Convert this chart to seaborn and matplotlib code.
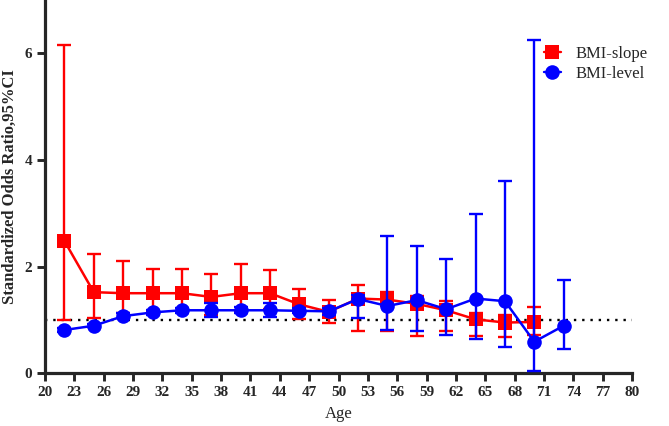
import matplotlib.pyplot as plt
import matplotlib.lines as mlines
import pandas as pd
import seaborn as sns

# dati
ages_slope = [22, 25, 28, 31, 34, 37, 40, 43, 46, 49, 52, 55, 58, 61, 64, 67, 70]
slope_or = [2.48, 1.52, 1.50, 1.50, 1.50, 1.43, 1.50, 1.50, 1.29, 1.15, 1.40, 1.38, 1.30, 1.18, 1.01, 0.95, 0.96]
slope_lo = [1.00, 1.03, 1.12, 1.15, 1.15, 1.10, 1.15, 1.20, 1.02, 0.94, 0.79, 0.80, 0.69, 0.79, 0.69, 0.67, 0.72]
slope_hi = [6.16, 2.24, 2.11, 1.96, 1.95, 1.86, 2.04, 1.94, 1.58, 1.38, 1.65, 1.52, 1.45, 1.35, 1.12, 1.10, 1.24]

ages_level = [22, 25, 28, 31, 34, 37, 40, 43, 46, 49, 52, 55, 58, 61, 64, 67, 70, 73]
level_or = [0.81, 0.89, 1.07, 1.14, 1.18, 1.18, 1.18, 1.18, 1.17, 1.16, 1.39, 1.26, 1.37, 1.20, 1.40, 1.35, 0.59, 0.89]
level_lo = [0.78, 0.86, 1.03, 1.10, 1.13, 1.06, 1.13, 1.06, 1.12, 1.10, 1.04, 0.81, 0.79, 0.71, 0.65, 0.50, 0.05, 0.45]
level_hi = [0.85, 0.93, 1.12, 1.18, 1.22, 1.31, 1.24, 1.32, 1.22, 1.22, 1.47, 2.57, 2.38, 2.14, 2.99, 3.60, 6.25, 1.75]

x_ticks = list(range(20, 81, 3))
y_ticks = [0, 2, 4, 6]

series = [
    ('BMI-slope', ages_slope, slope_or, slope_lo, slope_hi, '#ff0000', 's'),
    ('BMI-level', ages_level, level_or, level_lo, level_hi, '#0000ff', 'o'),
]

df = pd.concat([
    pd.DataFrame({'Age': a, 'OR': o, 'Group': name})
    for name, a, o, lo, hi, c, m in series
])

sns.set_style('ticks')
plt.rcParams['font.family'] = ['Liberation Serif', 'DejaVu Serif']

fig = plt.figure(figsize=(6.69, 4.26), dpi=100)
ax = fig.add_axes([0.067, 0.124, 0.878, 0.876])

# linea di riferimento OR = 1
ax.axhline(1, color='black', linestyle=(0, (1, 2.5)), linewidth=1.7, zorder=1)

sns.lineplot(data=df, x='Age', y='OR', hue='Group', style='Group',
             palette={s[0]: s[5] for s in series},
             markers={s[0]: s[6] for s in series},
             dashes=False, markersize=10.5, markeredgewidth=0,
             linewidth=1.8, legend=False, ax=ax, zorder=3)

# barre di errore (IC 95%)
for name, a, o, lo, hi, c, m in series:
    yerr = [[v - l for v, l in zip(o, lo)], [h - v for v, h in zip(o, hi)]]
    ax.errorbar(a, o, yerr=yerr, fmt='none', ecolor=c, elinewidth=1.7,
                capsize=4.8, capthick=1.7, zorder=2 if name == 'BMI-slope' else 4)

ax.set_xlim(20, 80)
ax.set_ylim(0, 7)
ax.set_xticks(x_ticks)
ax.set_yticks(y_ticks)
sns.despine(ax=ax)
for sp in ['left', 'bottom']:
    ax.spines[sp].set_linewidth(2.3)
ax.tick_params(axis='both', width=2.1, length=6, labelsize=11, pad=3)
for lab in ax.get_xticklabels() + ax.get_yticklabels():
    lab.set_fontweight('bold')

ax.set_xlabel('Age', fontsize=12, labelpad=5)
ax.set_ylabel('Standardized Odds Ratio,95%CI', fontsize=12, fontweight='bold', labelpad=5)

handles = [mlines.Line2D([], [], color=c, marker=m, markersize=10.5, markeredgewidth=0,
                         linewidth=1.7, label=name)
           for name, a, o, lo, hi, c, m in series]
ax.legend(handles=handles, loc='upper right', bbox_to_anchor=(1.052, 0.918),
          frameon=False, fontsize=12, handlelength=1.0, handletextpad=0.9,
          labelspacing=0.25)

fig.savefig('out.png', dpi=100)
